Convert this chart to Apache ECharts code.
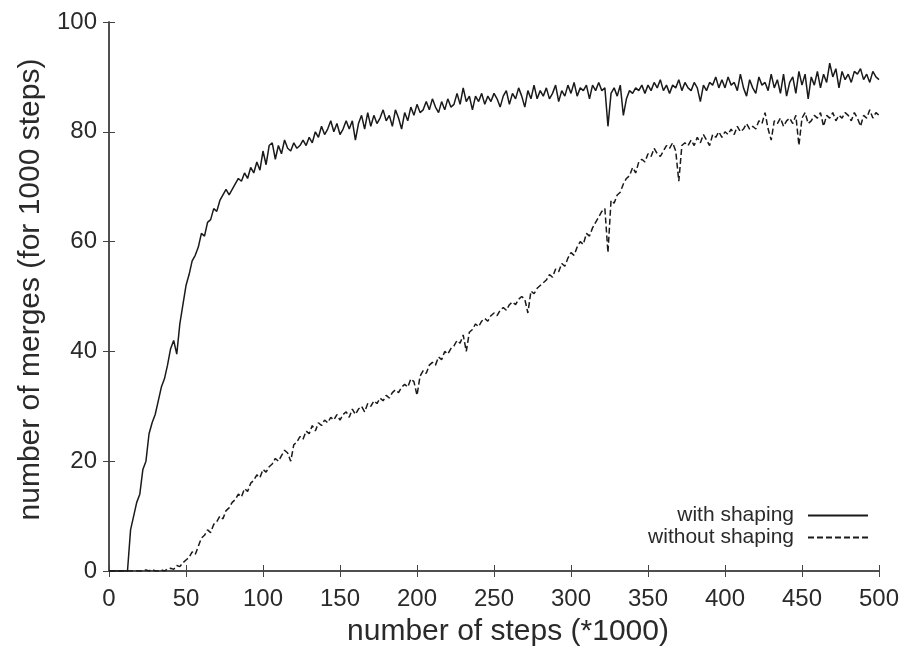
<!DOCTYPE html>
<html>
<head>
<meta charset="utf-8">
<script src="https://cdn.jsdelivr.net/npm/echarts@6/dist/echarts.min.js"></script>
<style>
  html, body { margin: 0; padding: 0; background: #ffffff; }
  #chart { width: 908px; height: 653px; }
</style>
</head>
<body>
<div id="chart"></div>
<script>
// x positions (thousands of steps), one sample every 2
const steps = [
  0, 2, 4, 6, 8, 10, 12, 14, 16, 18,
  20, 22, 24, 26, 28, 30, 32, 34, 36, 38,
  40, 42, 44, 46, 48, 50, 52, 54, 56, 58,
  60, 62, 64, 66, 68, 70, 72, 74, 76, 78,
  80, 82, 84, 86, 88, 90, 92, 94, 96, 98,
  100, 102, 104, 106, 108, 110, 112, 114, 116, 118,
  120, 122, 124, 126, 128, 130, 132, 134, 136, 138,
  140, 142, 144, 146, 148, 150, 152, 154, 156, 158,
  160, 162, 164, 166, 168, 170, 172, 174, 176, 178,
  180, 182, 184, 186, 188, 190, 192, 194, 196, 198,
  200, 202, 204, 206, 208, 210, 212, 214, 216, 218,
  220, 222, 224, 226, 228, 230, 232, 234, 236, 238,
  240, 242, 244, 246, 248, 250, 252, 254, 256, 258,
  260, 262, 264, 266, 268, 270, 272, 274, 276, 278,
  280, 282, 284, 286, 288, 290, 292, 294, 296, 298,
  300, 302, 304, 306, 308, 310, 312, 314, 316, 318,
  320, 322, 324, 326, 328, 330, 332, 334, 336, 338,
  340, 342, 344, 346, 348, 350, 352, 354, 356, 358,
  360, 362, 364, 366, 368, 370, 372, 374, 376, 378,
  380, 382, 384, 386, 388, 390, 392, 394, 396, 398,
  400, 402, 404, 406, 408, 410, 412, 414, 416, 418,
  420, 422, 424, 426, 428, 430, 432, 434, 436, 438,
  440, 442, 444, 446, 448, 450, 452, 454, 456, 458,
  460, 462, 464, 466, 468, 470, 472, 474, 476, 478,
  480, 482, 484, 486, 488, 490, 492, 494, 496, 498,
  500
]

const withShaping = [
  0, 0, 0, 0, 0, 0, 0, 7.5, 10, 12.5,
  14, 18.5, 20, 25, 27, 28.5, 31, 33.5, 35, 37.5,
  40.5, 42, 39.5, 45, 48.5, 52, 54, 56.5, 57.5, 59,
  61.5, 61, 63.5, 64, 66, 65.5, 67.5, 68.5, 69.5, 68.5,
  69.5, 70.5, 71.5, 71, 72.5, 71.5, 73.5, 72.5, 74.5, 73,
  76.5, 74, 77.5, 78, 75, 77.5, 76, 78.5, 77, 76.5,
  78, 77, 77.5, 78.5, 77.5, 79, 78, 80, 79, 81,
  79.5, 80.5, 82, 80, 81.5, 79.5, 80.5, 82, 80.5, 82,
  78.5, 81.5, 83, 80.5, 83.5, 81, 83, 81.5, 82.5, 84,
  82, 83, 81, 84, 82.5, 80.5, 83.5, 82, 84.5, 83,
  85, 83.5, 84, 85.5, 84, 86, 84.5, 83.5, 85.5, 84,
  86, 84.5, 85, 87, 85, 88, 85.5, 86.5, 84, 86.5,
  85.5, 87, 85, 86.5, 85.5, 87, 86, 84.5, 86.5, 87.5,
  85, 87, 86, 88, 86.5, 84.5, 87.5, 86, 88.5, 86,
  87.5, 86.5, 88, 86, 87, 88.5, 85.5, 87.5, 86.5, 88.5,
  87, 89, 86.5, 88, 87.5, 88.5, 86, 88.5, 87.5, 89,
  87.5, 88, 81, 87, 88, 86.5, 88.5, 83, 86, 87.5,
  87, 88, 87.5, 88.5, 87, 88.5, 87.5, 89, 88, 89.5,
  87.5, 88.5, 87, 88.5, 88, 89.5, 87.5, 89, 88, 87.5,
  89, 88, 85.5, 88.5, 87.5, 89, 88.5, 90, 88, 89.5,
  88, 90, 88.5, 89, 87.5, 90.5, 88, 86.5, 89.5, 88,
  87, 90, 88.5, 89, 87.5, 90.5, 88, 89.5, 87, 90.5,
  86.5, 89, 90, 87, 91, 88.5, 90.5, 86, 90, 88.5,
  91, 88, 90.5, 89, 92.5, 90, 91.5, 88, 91, 89.5,
  90.5, 89, 91, 90.5, 91.5, 89.5, 90.5, 89, 91, 90,
  89.5
]

const withoutShaping = [
  0, 0, 0, 0, 0, 0, 0, 0, 0, 0,
  0, 0, 0.2, 0, 0.3, 0, 0, 0.2, 0, 0.4,
  0.5, 0.3, 1, 0.8, 1.5, 2, 2.5, 3.5, 3, 4.5,
  6, 6.5, 7.5, 7, 8.5, 9, 10, 9.5, 11, 11.5,
  12.5, 13, 14, 13.5, 15, 14.5, 16, 16.5, 17.5, 17,
  18.5, 18, 19, 19.5, 20.5, 20, 21, 22, 21.5, 20,
  23, 23.5, 24.5, 24, 25.5, 25, 26.5, 25.5, 27, 26.5,
  27.5, 27, 28, 27.5, 28.5, 27.5, 28.5, 29, 28, 29.5,
  28.5, 29.5, 30, 29, 30.5, 30, 31, 30.5, 31.5, 31,
  32, 31.5, 32.5, 33, 32.5, 33.5, 34, 33.5, 35, 34.5,
  32, 35.5, 36.5, 36, 37.5, 38, 37.5, 39, 38.5, 40,
  39.5, 40.5, 41, 42, 41.5, 43, 40, 43.5, 44, 45,
  44.5, 45.5, 46, 45.5, 46.5, 47, 46.5, 47.5, 48, 47.5,
  48.5, 49, 48.5, 49.5, 50, 49.5, 47, 51, 50.5, 51.5,
  52, 52.5, 53, 54, 53.5, 55, 54.5, 56, 55.5, 57,
  58, 57.5, 59, 60, 59.5, 61.5, 61, 62.5, 63.5, 64.5,
  65.5, 66, 58, 67.5, 67, 68.5, 69, 70.5, 71.5, 72,
  73.5, 72.5, 74.5, 75, 74.5, 76, 75.5, 77, 76, 75.5,
  76.5, 77.5, 77, 78, 76.5, 71, 77.5, 78, 77.5, 78.5,
  77.5, 79, 78, 79.5, 78.5, 77.5, 79.5, 79, 80, 79,
  80, 79.5, 80.5, 79.5, 81, 80, 80.5, 81.5, 80.5, 81,
  80.5, 82, 81.5, 83.5, 80.5, 78.5, 82, 81.5, 82.5, 81,
  82, 82.5, 81.5, 83, 77.5, 82.5, 83.5, 81.5, 82, 83,
  82.5, 83.5, 81, 83, 82.5, 83.5, 82, 83, 82.5, 83.5,
  83, 82, 83.5, 82.5, 81, 83, 82.5, 84, 82.5, 83.5,
  83
]

const chart = echarts.init(document.getElementById('chart'))

const font = 'Liberation Sans, Arial, Helvetica, sans-serif'
const axisColor = '#444'
const textColor = '#2a2a2a'
const lineColor = '#1a1a1a'

const tickStyle = { show: true, inside: true, length: 6, lineStyle: { color: axisColor, width: 1 } }

const option = {
  animation: false,
  backgroundColor: '#ffffff',
  grid: { left: 109, right: 29, top: 22, bottom: 82, outerBoundsMode: 'none', containLabel: false },
  legend: {
    orient: 'vertical',
    right: 34,
    top: 500,
    align: 'right',
    itemWidth: 60,
    itemHeight: 14,
    itemGap: 1,
    itemStyle: { opacity: 0 },
    textStyle: { fontFamily: font, fontSize: 21, color: textColor, padding: [0, 9, 0, 0] },
    data: ['with shaping', 'without shaping']
  },
  xAxis: [
    {
      type: 'value',
      min: 0,
      max: 500,
      interval: 50,
      name: 'number of steps (*1000)',
      nameLocation: 'middle',
      nameGap: 46,
      nameTextStyle: { fontFamily: font, fontSize: 30, color: textColor, padding: [0, 0, 0, 28] },
      axisLine: { show: true, lineStyle: { color: axisColor, width: 1.5 } },
      axisTick: tickStyle,
      axisLabel: { fontFamily: font, fontSize: 24, color: textColor, margin: 16 },
      splitLine: { show: false }
    },
    {
      type: 'value',
      position: 'top',
      min: 0,
      max: 500,
      interval: 50,
      axisLine: { show: true, lineStyle: { color: axisColor, width: 1.5 } },
      axisTick: tickStyle,
      axisLabel: { show: false },
      splitLine: { show: false }
    }
  ],
  yAxis: [
    {
      type: 'value',
      min: 0,
      max: 100,
      interval: 20,
      name: 'number of merges (for 1000 steps)',
      nameLocation: 'middle',
      nameGap: 49,
      nameTextStyle: { fontFamily: font, fontSize: 30, color: textColor, padding: [0, 0, 14, 14] },
      axisLine: { show: true, lineStyle: { color: axisColor, width: 1.5 } },
      axisTick: tickStyle,
      axisLabel: { fontFamily: font, fontSize: 24, color: textColor, margin: 12 },
      splitLine: { show: false }
    },
    {
      type: 'value',
      position: 'right',
      min: 0,
      max: 100,
      interval: 20,
      axisLine: { show: true, lineStyle: { color: axisColor, width: 1.5 } },
      axisTick: tickStyle,
      axisLabel: { show: false },
      splitLine: { show: false }
    }
  ],
  series: [
    {
      name: 'with shaping',
      type: 'line',
      xAxisIndex: 0,
      yAxisIndex: 0,
      data: steps.map((x, i) => [x, withShaping[i]]),
      symbol: 'none',
      itemStyle: { color: lineColor },
      lineStyle: { color: lineColor, width: 1.5 }
    },
    {
      name: 'without shaping',
      type: 'line',
      xAxisIndex: 0,
      yAxisIndex: 0,
      data: steps.map((x, i) => [x, withoutShaping[i]]),
      symbol: 'none',
      itemStyle: { color: lineColor },
      lineStyle: { color: lineColor, width: 1.5, type: [6, 3] }
    }
  ]
}

chart.setOption(option)
</script>
</body>
</html>
